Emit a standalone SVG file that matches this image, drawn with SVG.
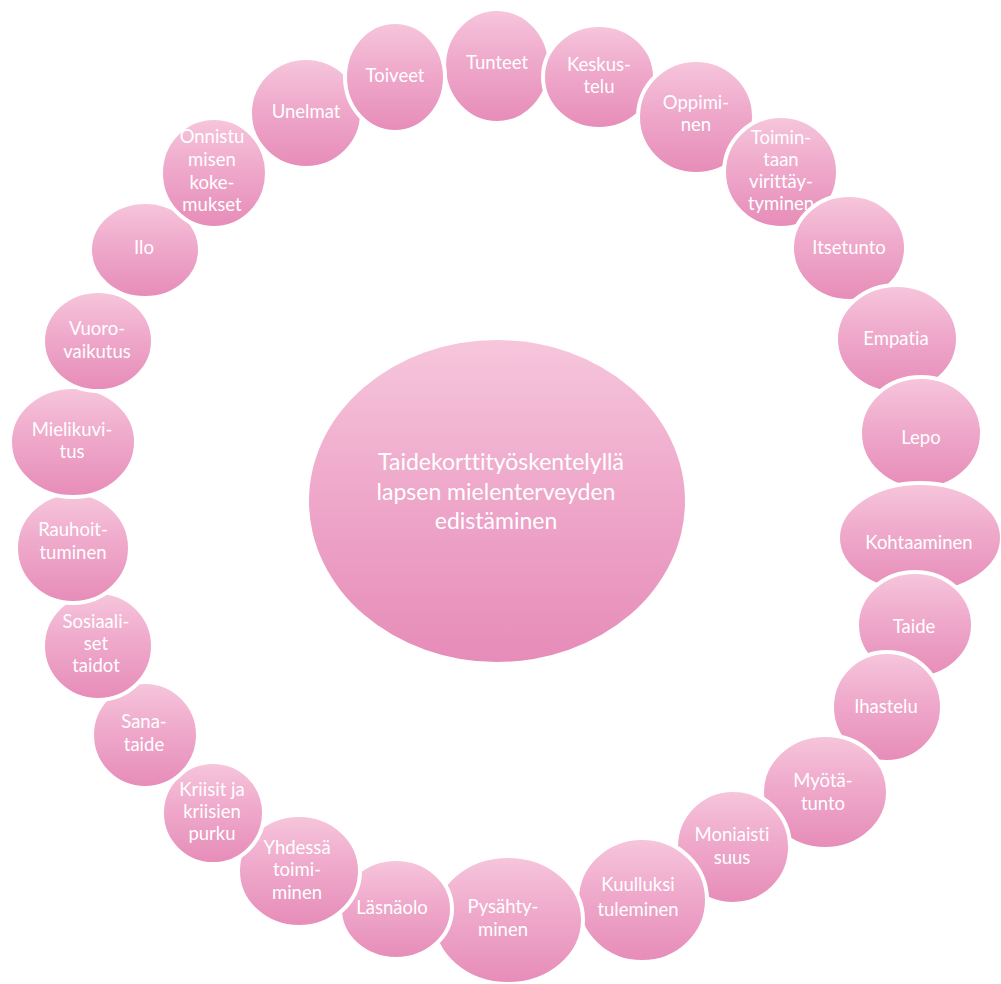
<svg xmlns="http://www.w3.org/2000/svg" width="1001" height="984" viewBox="0 0 1001 984">
<defs>
<linearGradient id="pink" x1="0" y1="0" x2="0" y2="1">
<stop offset="0" stop-color="#f6c6dc"/>
<stop offset="0.45" stop-color="#efa9cb"/>
<stop offset="1" stop-color="#e68cb8"/>
</linearGradient>
</defs>
<style>
.c{fill:url(#pink);stroke:#ffffff;stroke-width:4}
.m{fill:url(#pink)}
text{font-family:Lato,"Open Sans","Liberation Sans",sans-serif;fill:#ffffff;text-anchor:middle;font-variant-ligatures:none}
.t{font-size:18.5px}
.b{font-size:23px}
</style>
<rect width="1001" height="984" fill="#ffffff"/>
<g id="center">
<ellipse class="m" cx="497" cy="501" rx="188" ry="161"/>
<text class="b" x="501" y="470">Taidekorttityöskentelyllä</text>
<text class="b" x="496" y="500">lapsen mielenterveyden</text>
<text class="b" x="496" y="529">edistäminen</text>
</g>
<g id="n1"><ellipse class="c" cx="497" cy="66" rx="53" ry="57"/><text class="t" x="497" y="69">Tunteet</text></g>
<g id="n2"><ellipse class="c" cx="599" cy="77" rx="56" ry="52"/><text class="t" x="599" y="71">Keskus-</text><text class="t" x="599" y="93">telu</text></g>
<g id="n3"><ellipse class="c" cx="696" cy="117" rx="58" ry="57"/><text class="t" x="696" y="109">Oppimi-</text><text class="t" x="696" y="131">nen</text></g>
<g id="n4"><ellipse class="c" cx="781" cy="172" rx="57" ry="56"/><text class="t" x="781" y="144">Toimin-</text><text class="t" x="781" y="166">taan</text><text class="t" x="781" y="188">virittäy-</text><text class="t" x="781" y="210">tyminen</text></g>
<g id="n5"><ellipse class="c" cx="849" cy="248" rx="57" ry="53"/><text class="t" x="849" y="254">Itsetunto</text></g>
<g id="n6"><ellipse class="c" cx="897" cy="339" rx="61" ry="54"/><text class="t" x="896" y="345">Empatia</text></g>
<g id="n7"><ellipse class="c" cx="921" cy="433" rx="61" ry="56"/><text class="t" x="921" y="444">Lepo</text></g>
<g id="n8"><ellipse class="c" cx="920" cy="538" rx="82" ry="55"/><text class="t" x="919" y="549">Kohtaaminen</text></g>
<g id="n9"><ellipse class="c" cx="915" cy="625" rx="58" ry="53"/><text class="t" x="914" y="633">Taide</text></g>
<g id="n10"><ellipse class="c" cx="887" cy="707" rx="55" ry="55"/><text class="t" x="886" y="713">Ihastelu</text></g>
<g id="n11"><ellipse class="c" cx="825" cy="792" rx="63" ry="57"/><text class="t" x="823" y="787">Myötä-</text><text class="t" x="823" y="810">tunto</text></g>
<g id="n12"><ellipse class="c" cx="733" cy="847" rx="57" ry="57"/><text class="t" x="732" y="841">Moniaisti</text><text class="t" x="732" y="864">suus</text></g>
<g id="n13"><ellipse class="c" cx="642" cy="900" rx="65" ry="62"/><text class="t" x="638" y="891">Kuulluksi</text><text class="t" x="638" y="916">tuleminen</text></g>
<g id="n14"><ellipse class="c" cx="508" cy="920" rx="75" ry="64"/><text class="t" x="503" y="913">Pysähty-</text><text class="t" x="503" y="936">minen</text></g>
<g id="n15"><ellipse class="c" cx="396" cy="909" rx="56" ry="50"/><text class="t" x="392" y="914">Läsnäolo</text></g>
<g id="n16"><ellipse class="c" cx="299" cy="871" rx="61" ry="56"/><text class="t" x="297" y="854">Yhdessä</text><text class="t" x="297" y="876">toimi-</text><text class="t" x="297" y="899">minen</text></g>
<g id="n17"><ellipse class="c" cx="213" cy="813" rx="51" ry="51"/><text class="t" x="212" y="796">Kriisit ja</text><text class="t" x="212" y="818">kriisien</text><text class="t" x="212" y="840">purku</text></g>
<g id="n18"><ellipse class="c" cx="145" cy="735" rx="53" ry="53"/><text class="t" x="144" y="728">Sana-</text><text class="t" x="144" y="751">taide</text></g>
<g id="n19"><ellipse class="c" cx="98" cy="646" rx="55" ry="54"/><text class="t" x="96" y="628">Sosiaali-</text><text class="t" x="96" y="650">set</text><text class="t" x="96" y="672">taidot</text></g>
<g id="n20"><ellipse class="c" cx="73" cy="548" rx="57" ry="55"/><text class="t" x="73" y="536">Rauhoit-</text><text class="t" x="73" y="559">tuminen</text></g>
<g id="n21"><ellipse class="c" cx="73" cy="442" rx="63" ry="55"/><text class="t" x="72" y="436">Mielikuvi-</text><text class="t" x="72" y="458">tus</text></g>
<g id="n22"><ellipse class="c" cx="98" cy="341" rx="55" ry="50"/><text class="t" x="97" y="335">Vuoro-</text><text class="t" x="97" y="358">vaikutus</text></g>
<g id="n23"><ellipse class="c" cx="145" cy="250" rx="55" ry="48"/><text class="t" x="144" y="254">Ilo</text></g>
<g id="n24"><ellipse class="c" cx="214" cy="173" rx="53" ry="55"/><text class="t" x="212" y="143">Onnistu</text><text class="t" x="212" y="166">misen</text><text class="t" x="212" y="189">koke-</text><text class="t" x="212" y="211">mukset</text></g>
<g id="n25"><ellipse class="c" cx="306" cy="113" rx="56" ry="55"/><text class="t" x="306" y="118">Unelmat</text></g>
<g id="n26"><ellipse class="c" cx="395" cy="77" rx="50" ry="55"/><text class="t" x="395" y="82">Toiveet</text></g>
</svg>
